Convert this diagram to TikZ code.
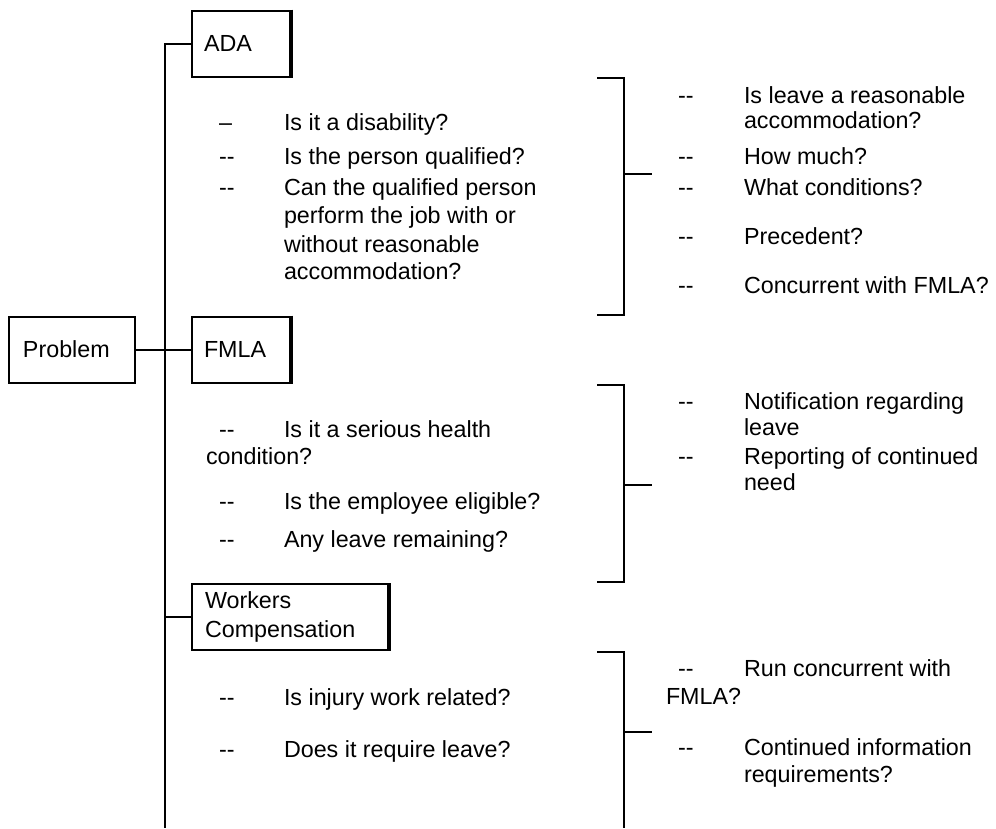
\documentclass[tikz,border=0pt]{standalone}
\usepackage{fontspec}
\setmainfont{Liberation Sans}
\usetikzlibrary{calc}

\begin{document}
\begin{tikzpicture}[x=1pt,y=-1pt,line width=2pt,
  font=\fontsize{23.3}{28.5}\selectfont,
  box/.style={draw,inner xsep=12pt,inner ysep=0pt,align=left,minimum height=66pt},
  item/.style={anchor=west,inner sep=0pt,text height=16pt,text depth=1pt}]
\useasboundingbox (0,0) rectangle (996,828);
% boxes
\node[box,inner xsep=14pt,text width=98pt] (problem) at (72,349.5) {Problem};
\node[box,text width=74pt] (ada) at (241,43.5) {ADA};
\node[box,text width=74pt] (fmla) at (241,349.5) {FMLA};
\node[box,inner xsep=13pt,text width=170pt] (wc) at (290,617) {Workers\\Compensation};
\foreach \b in {ada,fmla,wc}
  \draw[line width=3.5pt] (\b.north east) -- (\b.south east);
% tree
\coordinate (trunk) at (165,828);
\draw (ada.west) -| (trunk);
\draw (problem.east) -- (fmla.west);
\draw (wc.west) -- (wc.west -| trunk);
% brackets
\foreach \tp/\md/\bt in {78/174/315,385/485/582}
  \draw (597,\tp) -- (624,\tp) -- (624,\bt) -- (597,\bt) (624,\md) -- (652,\md);
\draw (597,652) -- (624,652) -- (624,828) (624,732) -- (652,732);
% left column
\node[item] (ld1) at (218,123) {–};
\foreach \y [count=\i from 2] in {157,188,430,502,540,698,750}
  \node[item] (ld\i) at (218,\y) {-{}-};
\foreach \y/\txt [count=\i] in {123/Is it a disability?,157/Is the person qualified?,
    188/Can the qualified person,216/perform the job with or,245/without reasonable,
    272/accommodation?,430/Is it a serious health,502/Is the employee eligible?,
    540/Any leave remaining?,698/Is injury work related?,750/Does it require leave?}
  \node[item] (lt\i) at (283,\y) {\txt};
\node[item] (lcond) at (205,457) {condition?};
% right column
\foreach \y [count=\i] in {96,157,188,237,286,402,457,669,748}
  \node[item] (rd\i) at (677,\y) {-{}-};
\foreach \y/\txt [count=\i] in {96/Is leave a reasonable,121/accommodation?,157/How much?,
    188/What conditions?,237/Precedent?,286/Concurrent with FMLA?,
    402/Notification regarding,428/leave,457/Reporting of continued,483/need,
    669/Run concurrent with,748/Continued information,775/requirements?}
  \node[item] (rt\i) at (743,\y) {\txt};
\node[item] (rfmla) at (665,697) {FMLA?};
\end{tikzpicture}
\end{document}
